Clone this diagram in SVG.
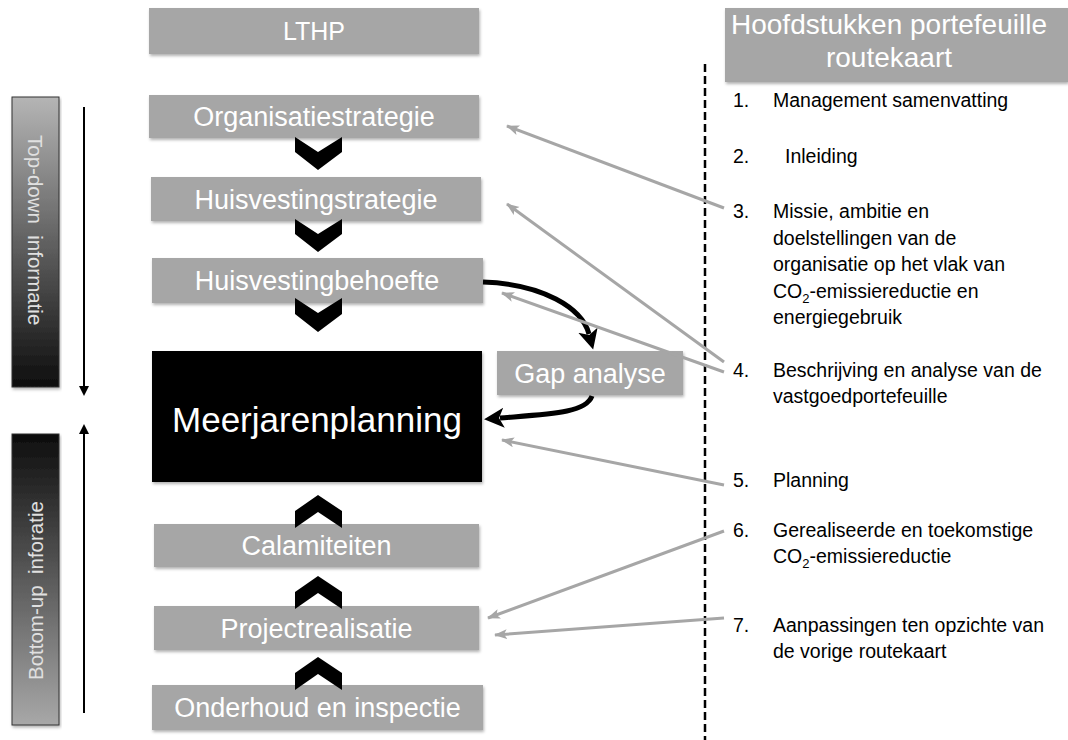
<svg xmlns="http://www.w3.org/2000/svg" width="1068" height="740" viewBox="0 0 1068 740">
<style>
.box{fill:#a6a6a6;filter:url(#sh)}
.lbl{font-family:"Liberation Sans",Arial,sans-serif;font-size:27px;fill:#ffffff;text-anchor:middle}
.list{font-family:"Liberation Sans",Arial,sans-serif;font-size:19.5px;fill:#000000}
.chev{fill:#000000}
.gray{stroke:#a6a6a6;stroke-width:3;fill:none;marker-end:url(#ga)}
.blk{stroke:#000000;stroke-width:5;fill:none;marker-end:url(#ba)}
.side{font-family:"Liberation Sans",Arial,sans-serif;font-size:20.5px;fill:#e0e0e0}
</style>
<defs>
<filter id="sh" x="-5%" y="-10%" width="110%" height="130%">
<feDropShadow dx="1" dy="2" stdDeviation="1.5" flood-color="#000" flood-opacity="0.3"/>
</filter>
<linearGradient id="g1" x1="0" y1="0" x2="0" y2="1">
<stop offset="0" stop-color="#b5b5b5"/><stop offset="1" stop-color="#0d0d0d"/>
</linearGradient>
<linearGradient id="g2" x1="0" y1="0" x2="0" y2="1">
<stop offset="0" stop-color="#0d0d0d"/><stop offset="1" stop-color="#a8a8a8"/>
</linearGradient>
<marker id="ga" markerUnits="userSpaceOnUse" markerWidth="14" markerHeight="12" refX="12" refY="5" orient="auto">
<path d="M0,0 L13,5 L0,10 L3,5 Z" fill="#a6a6a6"/>
</marker>
<marker id="ba" markerUnits="userSpaceOnUse" markerWidth="22" markerHeight="22" refX="4" refY="10" orient="auto">
<path d="M0,0 L20,10 L0,20 L5,10 Z" fill="#000"/>
</marker>
<marker id="ta" markerUnits="userSpaceOnUse" markerWidth="12" markerHeight="12" refX="2" refY="5" orient="auto">
<path d="M0,0 L10,5 L0,10 Z" fill="#000"/>
</marker>
</defs>

<g id="side-topdown">
<rect x="12" y="97" width="47" height="290" fill="url(#g1)" stroke="#333" stroke-width="1" filter="url(#sh)"/>
<text class="side" transform="translate(28,135) rotate(90)" xml:space="preserve">Top-down  informatie</text>
</g>
<g id="side-bottomup">
<rect x="12" y="434" width="47" height="291" fill="url(#g2)" stroke="#333" stroke-width="1" filter="url(#sh)"/>
<text class="side" transform="translate(43,680) rotate(-90)" xml:space="preserve">Bottom-up  inforatie</text>
</g>

<g id="n-lthp"><rect class="box" x="149" y="8" width="330" height="46"/><text class="lbl" x="314" y="40" style="font-size:25px">LTHP</text></g>
<g id="n-org"><rect class="box" x="149" y="95" width="330" height="43"/><text class="lbl" x="314" y="126">Organisatiestrategie</text></g>
<g id="n-hstrat"><rect class="box" x="151" y="177" width="330" height="44"/><text class="lbl" x="316" y="208.5">Huisvestingstrategie</text></g>
<g id="n-hbeh"><rect class="box" x="152" y="258" width="331" height="45"/><text class="lbl" x="317" y="290">Huisvestingbehoefte</text></g>
<g id="n-mjp"><rect x="152" y="351" width="330" height="131" fill="#000" filter="url(#sh)"/><text class="lbl" x="317" y="432" style="font-size:35px">Meerjarenplanning</text></g>
<g id="n-gap"><rect class="box" x="497" y="351" width="186" height="44"/><text class="lbl" x="590" y="382.5">Gap analyse</text></g>
<g id="n-calam"><rect class="box" x="154" y="524" width="325" height="43"/><text class="lbl" x="316.5" y="555">Calamiteiten</text></g>
<g id="n-proj"><rect class="box" x="154" y="606" width="325" height="44"/><text class="lbl" x="316.5" y="637.5">Projectrealisatie</text></g>
<g id="n-ond"><rect class="box" x="152" y="685" width="331" height="45"/><text class="lbl" x="317.5" y="716.5">Onderhoud en inspectie</text></g>

<g id="n-header"><rect class="box" x="725" y="8" width="343" height="74"/>
<text class="lbl" x="889" y="34" style="font-size:28px">Hoofdstukken portefeuille</text>
<text class="lbl" x="889" y="67" style="font-size:28px">routekaart</text></g>

<g id="chevrons">
<path class="chev" d="M295,137 L318,152 L342,137 L342,152 L318,170 L295,152 Z"/>
<path class="chev" d="M295,219 L318,234 L342,219 L342,234 L318,252 L295,234 Z"/>
<path class="chev" d="M295,298 L318,313 L342,298 L342,314 L318,332 L295,314 Z"/>
<path class="chev" d="M318,495 L342,511 L342,528 L318,512 L295,528 L295,511 Z"/>
<path class="chev" d="M318,576 L342,592 L342,609 L318,593 L295,609 L295,592 Z"/>
<path class="chev" d="M318,657 L342,673 L342,690 L318,674 L295,690 L295,673 Z"/>
</g>

<g id="list">
<text class="list" x="733" y="107">1.</text><text class="list" x="773" y="107">Management samenvatting</text>
<text class="list" x="733" y="163">2.</text><text class="list" x="785" y="163">Inleiding</text>
<text class="list" x="733" y="218">3.</text>
<text class="list" x="773" y="218">Missie, ambitie en</text>
<text class="list" x="773" y="244.5">doelstellingen van de</text>
<text class="list" x="773" y="271">organisatie op het vlak van</text>
<text class="list" x="773" y="297.5">CO<tspan dy="5" style="font-size:13px">2</tspan><tspan dy="-5">-emissiereductie en</tspan></text>
<text class="list" x="773" y="324">energiegebruik</text>
<text class="list" x="733" y="377">4.</text>
<text class="list" x="773" y="377">Beschrijving en analyse van de</text>
<text class="list" x="773" y="403">vastgoedportefeuille</text>
<text class="list" x="733" y="487">5.</text><text class="list" x="773" y="487">Planning</text>
<text class="list" x="733" y="537">6.</text>
<text class="list" x="773" y="537">Gerealiseerde en toekomstige</text>
<text class="list" x="773" y="563">CO<tspan dy="5" style="font-size:13px">2</tspan><tspan dy="-5">-emissiereductie</tspan></text>
<text class="list" x="733" y="632">7.</text>
<text class="list" x="773" y="632">Aanpassingen ten opzichte van</text>
<text class="list" x="773" y="658">de vorige routekaart</text>
</g>

<g id="connectors">
<line x1="705" y1="64" x2="705" y2="740" stroke="#000" stroke-width="2.5" stroke-dasharray="8,4"/>
<line x1="84" y1="107" x2="84" y2="388" stroke="#000" stroke-width="2" marker-end="url(#ta)"/>
<line x1="84" y1="713" x2="84" y2="432" stroke="#000" stroke-width="2" marker-end="url(#ta)"/>
<path class="blk" d="M483,282 C543,284 582,308 589,334"/>
<path class="blk" d="M592,396 C586,413 550,414 500,418"/>
<line class="gray" x1="724" y1="208" x2="507" y2="126"/>
<line class="gray" x1="724" y1="362" x2="507" y2="204"/>
<line class="gray" x1="724" y1="372" x2="502" y2="293"/>
<line class="gray" x1="724" y1="485" x2="502" y2="440"/>
<line class="gray" x1="724" y1="531" x2="488" y2="618"/>
<line class="gray" x1="724" y1="618" x2="495" y2="635"/>
</g>
</svg>
